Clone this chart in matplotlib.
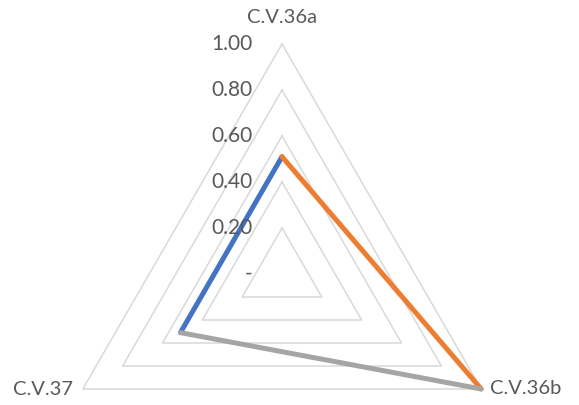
import numpy as np
import matplotlib
matplotlib.use("Agg")
import matplotlib.pyplot as plt

categories = ["C.V.36a", "C.V.36b", "C.V.37"]
# each series connects two categories (third is blank)
series_blue = [0.51, np.nan, 0.51]
series_orange = [0.51, 1.00, np.nan]
series_gray = [np.nan, 1.00, 0.51]
tick_values = [0.0, 0.2, 0.4, 0.6, 0.8, 1.0]
tick_labels = ["-", "0.20", "0.40", "0.60", "0.80", "1.00"]

colors = ["#4472C4", "#ED7D31", "#A5A5A5"]
text_color = "#595959"
grid_color = "#D9D9D9"

plt.rcParams['font.family'] = ['Lato', 'DejaVu Sans']

fig = plt.figure(figsize=(5.79, 4.05), dpi=100)
W, H = 579, 405
cx, cy, R = 282, 274, 230
ax = fig.add_axes([(cx - R) / W, (H - cy - R) / H, 2 * R / W, 2 * R / H], projection='polar')
ax.set_theta_offset(np.pi / 2)
ax.set_theta_direction(-1)
ax.set_ylim(0, 1.0)
ax.grid(False)
ax.spines['polar'].set_visible(False)
ax.set_xticks([])
ax.set_yticks([])
ax.patch.set_alpha(0)

n = len(categories)
angles = np.arange(n) * 2 * np.pi / n
closed_angles = np.append(angles, angles[0])

# triangular gridlines
for v in tick_values[1:]:
    ax.plot(closed_angles, [v] * (n + 1), color=grid_color, lw=1.1, zorder=1, clip_on=False)

# series: draw segments between consecutive categories where both present
def draw_series(vals, color):
    vals_c = list(vals) + [vals[0]]
    for i in range(n):
        a, b = vals_c[i], vals_c[i + 1]
        if not (np.isnan(a) or np.isnan(b)):
            ax.plot([closed_angles[i], closed_angles[i + 1]], [a, b], color=color,
                    lw=3.6, solid_capstyle='round', zorder=3, clip_on=False)

for vals, c in zip([series_blue, series_orange, series_gray], colors):
    draw_series(vals, c)

# radial tick labels
for v, lab in zip(tick_values, tick_labels):
    ax.annotate(lab, xy=(0, v), xytext=(-21, 0), textcoords='offset points',
                ha='right', va='center', fontsize=15, color=text_color)

# category labels
ax.annotate(categories[0], xy=(angles[0], 1.0), xytext=(0, 19), textcoords='offset points',
            ha='center', va='center', fontsize=14.5, color=text_color, annotation_clip=False)
ax.annotate(categories[1], xy=(angles[1], 1.0), xytext=(6, 0), textcoords='offset points',
            ha='left', va='center', fontsize=14.5, color=text_color, annotation_clip=False)
ax.annotate(categories[2], xy=(angles[2], 1.0), xytext=(-7, 0), textcoords='offset points',
            ha='right', va='center', fontsize=14.5, color=text_color, annotation_clip=False)

fig.savefig("out.png", dpi=100)
